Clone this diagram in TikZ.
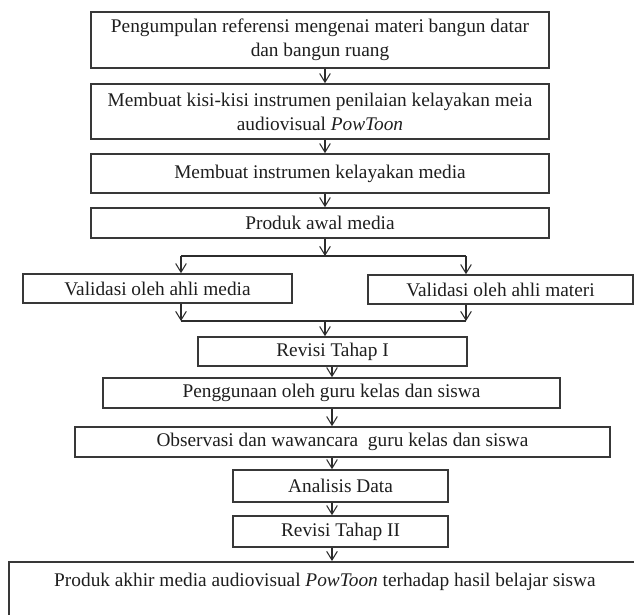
\documentclass[tikz,border=0pt]{standalone}
\usepackage{fontspec}
\setmainfont{Liberation Serif}
\usepackage{xcolor}
\usepackage{tikz}
\usetikzlibrary{arrows.meta}
\definecolor{B0}{HTML}{383838}
\definecolor{A0}{HTML}{2c2c2c}
\definecolor{T0}{HTML}{1e1e1e}
\tikzset{
  stepbox/.style={draw=B0, line width=1.4pt, rectangle, inner sep=0pt, align=center, text=T0, font=\fontsize{16.5}{20.5}\selectfont},
  flow/.style={draw=A0, line width=0.9pt, -{Straight Barb[length=2.6mm,width=3.2mm]}},
  joint/.style={draw=A0, line width=0.9pt},
}

\begin{document}
\begin{tikzpicture}[x=0.03cm, y=-0.03cm]%
\path[use as bounding box, clip] (0,0) rectangle (634,615);%
\node[stepbox, minimum width=13.74cm, minimum height=1.68cm] (kumpul) at (320,40) {Pengumpulan referensi mengenai materi bangun datar\\dan bangun ruang};%
\node[stepbox, minimum width=13.74cm, minimum height=1.65cm] (kisi) at (320,111.5) {Membuat kisi-kisi instrumen penilaian kelayakan meia\\audiovisual \textit{PowToon}};%
\node[stepbox, minimum width=13.74cm, minimum height=1.17cm] (instrumen) at (320,173.5) {Membuat instrumen kelayakan media};%
\node[stepbox, minimum width=13.74cm, minimum height=0.90cm] (awal) at (320,223) {Produk awal media};%
\node[stepbox, minimum width=8.07cm, minimum height=0.87cm] (valmedia) at (157.5,288.5) {Validasi oleh ahli media};%
\node[stepbox, minimum width=7.95cm, minimum height=0.87cm] (valmateri) at (500.5,289.5) {Validasi oleh ahli materi};%
\node[stepbox, minimum width=8.07cm, minimum height=0.87cm] (revsatu) at (332.5,351.5) {Revisi Tahap I};%
\node[stepbox, minimum width=13.71cm, minimum height=0.90cm] (guna) at (331.5,393) {Penggunaan oleh guru kelas dan siswa};%
\node[stepbox, minimum width=16.05cm, minimum height=0.90cm] (obs) at (342.5,442) {Observasi dan wawancara \ guru kelas dan siswa};%
\node[stepbox, minimum width=6.45cm, minimum height=0.96cm] (analisis) at (340.5,486) {Analisis Data};%
\node[stepbox, minimum width=6.45cm, minimum height=0.93cm] (revdua) at (340.5,531.5) {Revisi Tahap II};%
\node[stepbox, anchor=north, minimum width=18.96cm, text height=0.75cm, text depth=1.3cm] (akhir) at (325,561) {Produk akhir media audiovisual \textit{PowToon} terhadap hasil belajar siswa};%
% arrow columns and branch points
\coordinate (ax) at (325,0);%
\coordinate (bx) at (332,0);%
\coordinate (split) at (325,256);%
\coordinate (lsplit) at (181,256);%
\coordinate (rsplit) at (466,256);%
\coordinate (merge) at (325,321);%
\coordinate (lmerge) at (181,321);%
\coordinate (rmerge) at (466,321);%
\draw[flow] (kumpul.south -| ax) -- (kisi.north -| ax);%
\draw[flow] (kisi.south -| ax) -- (instrumen.north -| ax);%
\draw[flow] (instrumen.south -| ax) -- (awal.north -| ax);%
\draw[flow] (awal.south -| ax) -- (split);%
\draw[joint] (lsplit) -- (rsplit);%
\draw[flow] (lsplit) -- (valmedia.north -| lsplit);%
\draw[flow] (rsplit) -- (valmateri.north -| rsplit);%
\draw[flow] (valmedia.south -| lmerge) -- (lmerge);%
\draw[flow] (valmateri.south -| rmerge) -- (rmerge);%
\draw[joint] (lmerge) -- (rmerge);%
\draw[flow] (merge) -- (revsatu.north -| merge);%
\draw[flow] (revsatu.south -| bx) -- (guna.north -| bx);%
\draw[flow] (guna.south -| bx) -- (obs.north -| bx);%
\draw[flow] (obs.south -| bx) -- (analisis.north -| bx);%
\draw[flow] (analisis.south -| bx) -- (revdua.north -| bx);%
\draw[flow] (revdua.south -| bx) -- (akhir.north -| bx);%
\end{tikzpicture}
\end{document}
